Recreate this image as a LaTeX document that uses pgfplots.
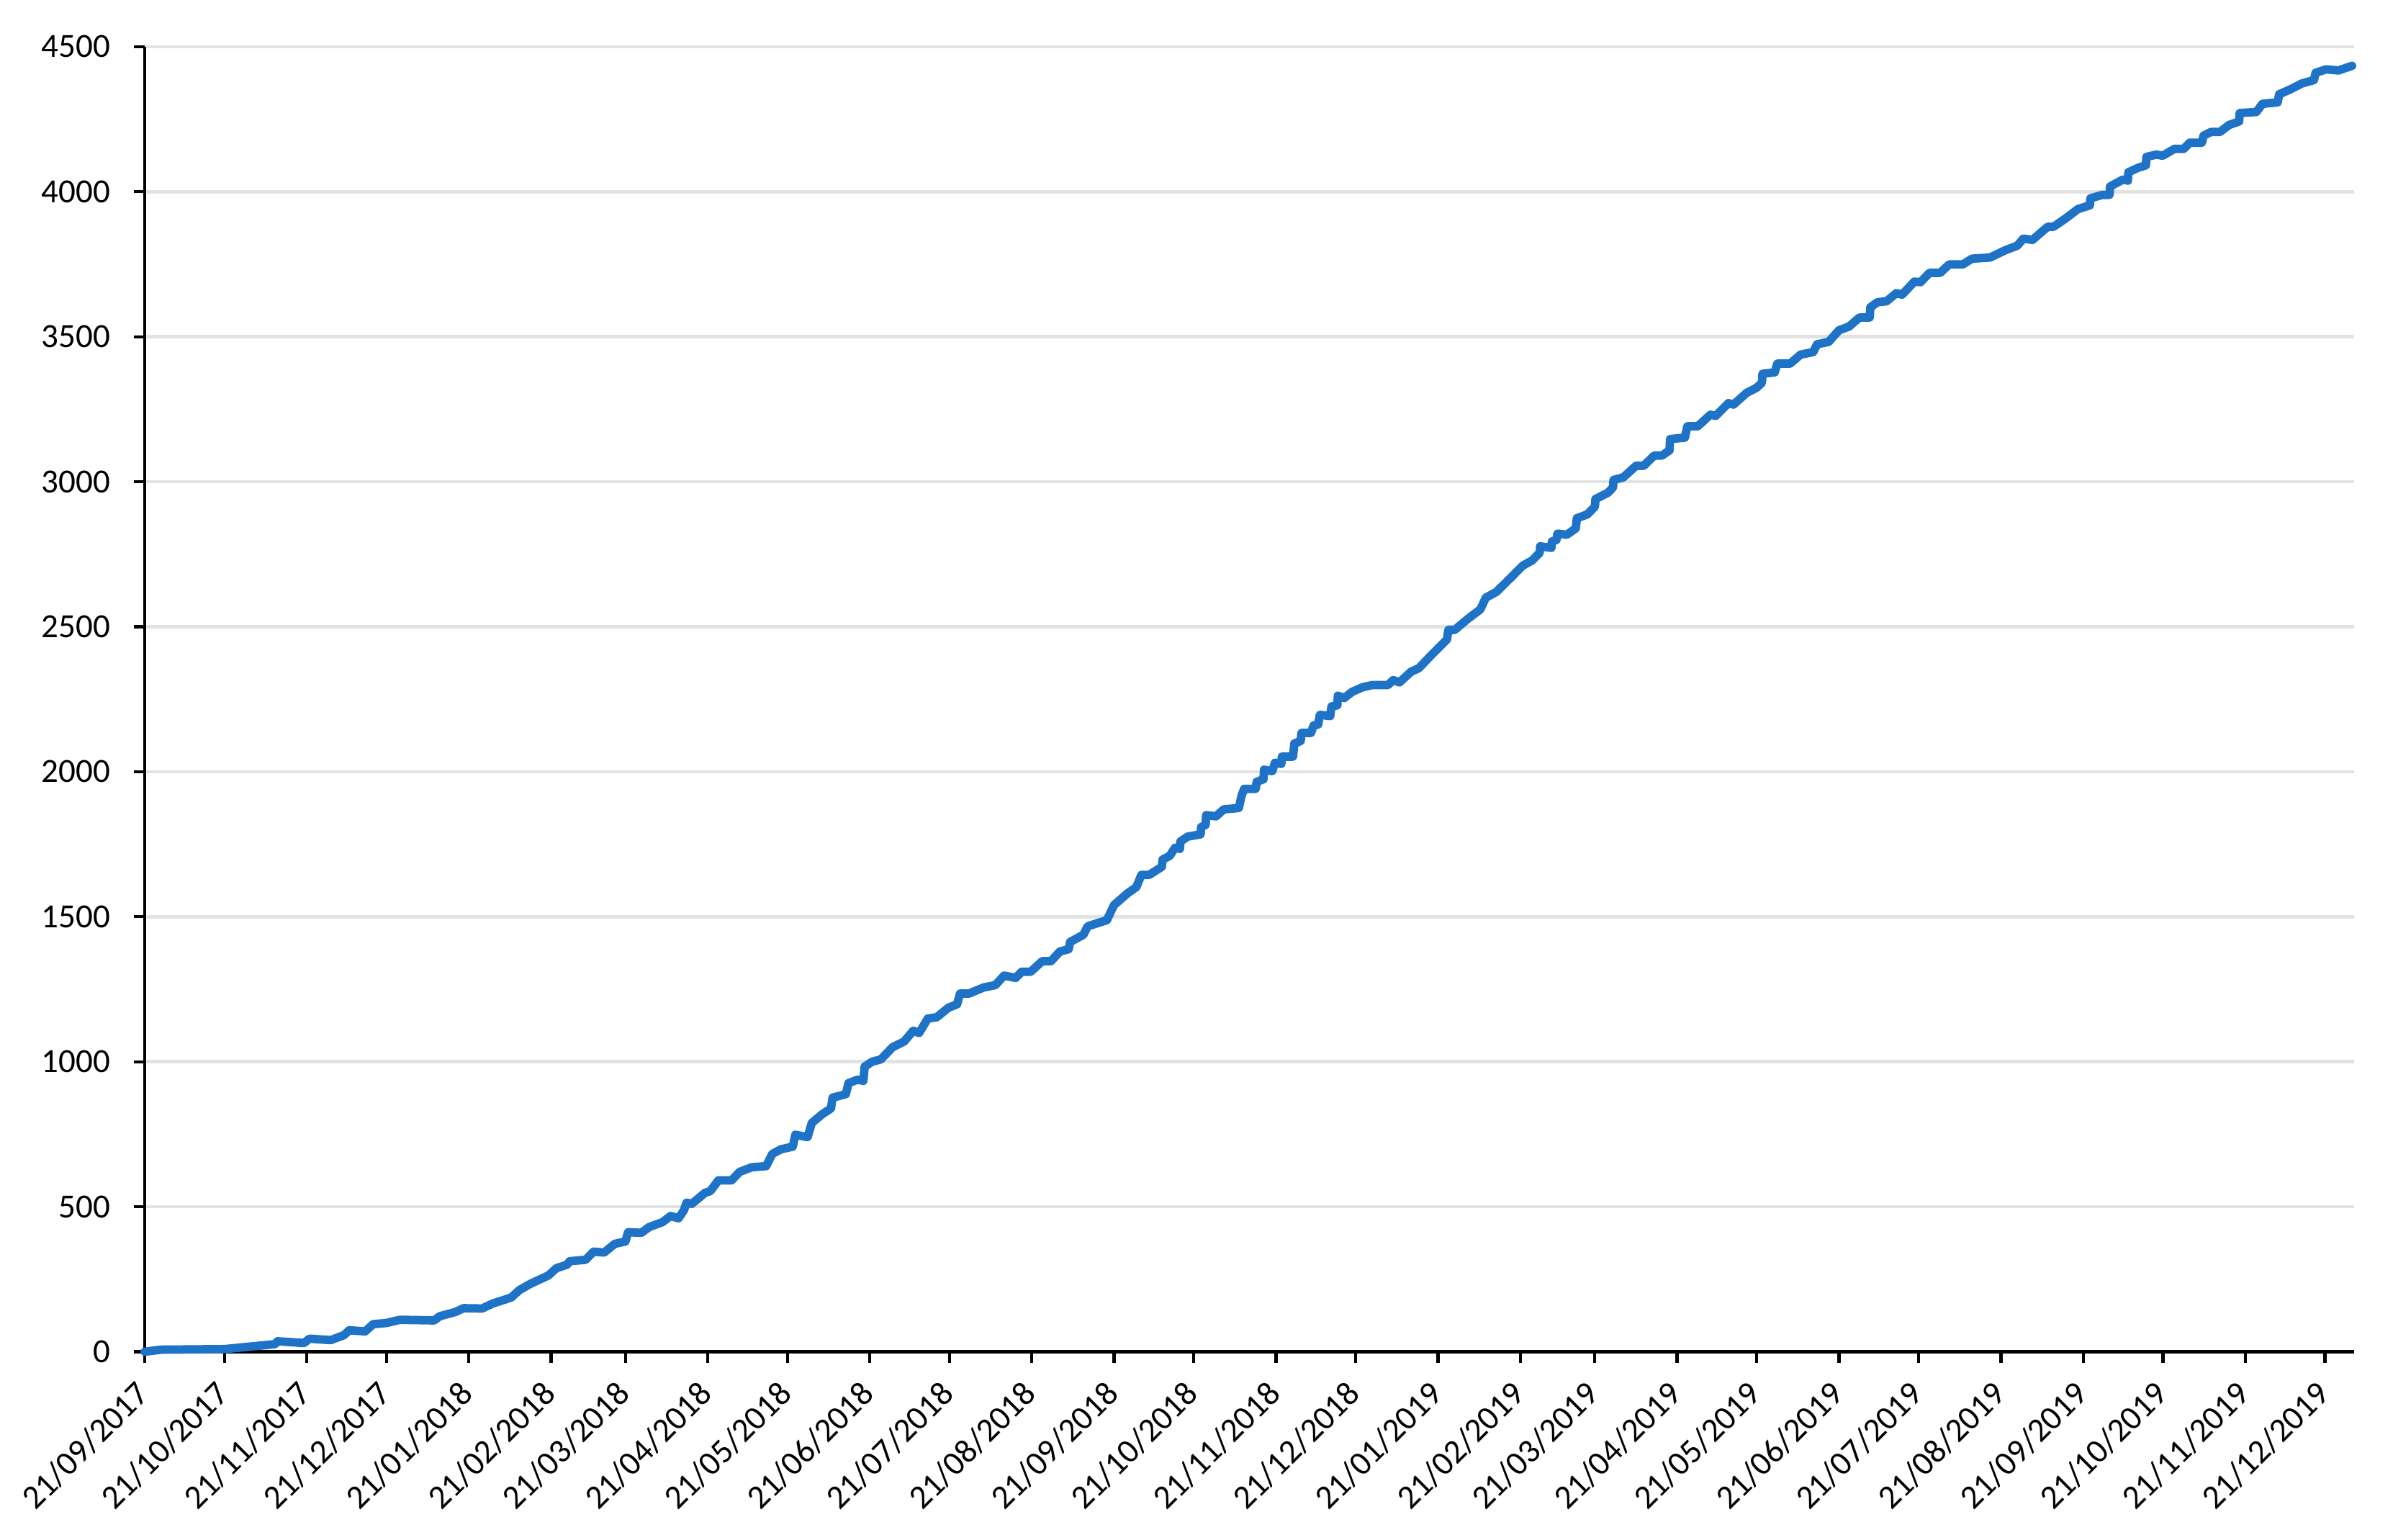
\documentclass[border=0pt]{standalone}
\usepackage{fontspec}
\setmainfont{Carlito}
\usepackage{pgfplots}
\pgfplotsset{compat=1.18}
\definecolor{lineblue}{RGB}{31,115,199}
\definecolor{gridgray}{RGB}{226,226,226}

\begin{document}
\begin{tikzpicture}
\useasboundingbox (-42.8pt,-55.5pt) rectangle (664.5pt,399.5pt);
\begin{axis}[
  scale only axis,
  width=653pt, height=385.7pt,
  xmin=0, xmax=832,
  ymin=0, ymax=4500,
  axis x line=bottom, axis y line=left,
  axis line style={-, line width=1pt, black},
  tick align=outside,
  major tick length=3.2pt,
  major tick style={line width=0.9pt, black},
  ytick={0,500,...,4500},
  xtick={0,30,61,91,122,153,181,212,242,273,303,334,365,395,426,456,487,518,546,577,607,638,668,699,730,760,791,821},
  xticklabels={21/09/2017,21/10/2017,21/11/2017,21/12/2017,21/01/2018,21/02/2018,21/03/2018,21/04/2018,21/05/2018,21/06/2018,21/07/2018,21/08/2018,21/09/2018,21/10/2018,21/11/2018,21/12/2018,21/01/2019,21/02/2019,21/03/2019,21/04/2019,21/05/2019,21/06/2019,21/07/2019,21/08/2019,21/09/2019,21/10/2019,21/11/2019,21/12/2019},
  xticklabel style={xshift=2pt, yshift=-5pt, rotate=45, anchor=east, font=\fontsize{10}{12}\selectfont},
  yticklabel style={xshift=-3.5pt, font=\fontsize{10}{12}\selectfont},
  /pgf/number format/assume math mode=true,
  /pgf/number format/1000 sep={},
  ymajorgrids=true,
  grid style={gridgray, line width=1pt},
  clip=false,
]
% cumulative total, x = days since 21/09/2017
\addplot[color=lineblue, line width=2.5pt, line join=round, line cap=round] coordinates {
(0,0)(6,7)(30,9)(40,18)(49,26)(50,36)(60,30)(62,45)(70,40)(75,57)(77,74)(83,70)
(86,95)(91,99)(96,110)(109,108)(111,122)(117,137)(120,150)(127,149)(131,166)
(138,187)(141,212)(145,233)(148,246)(152,263)(155,288)(159,300)(160,312)(166,317)
(169,345)(173,342)(177,372)(181,380)(182,412)(187,410)(190,430)(195,447)(198,468)
(201,460)(203,487)(204,514)(206,510)(211,548)
(213,554)(216,591)(221,591)(224,620)(228.6,636)(234,640)(236.3,682)(239.6,698)
(244,707)(245,748)(249.6,740)(251.2,789)(255,818)(258.4,839)(259,876)(264,888)
(265,926)(268.4,938)(270.6,934)(271.1,983)(273.9,1000)(277.2,1008)(281.6,1050)
(286,1070)(289.4,1107)(291.6,1099)(294.9,1149)(298.2,1153)(302.6,1186)(305.9,1198)
(307,1235)(310.4,1235)(315.9,1256)(320.3,1264)(323.6,1297)(328,1289)(330.2,1310)
(333.6,1310)(338,1347)(341.3,1347)(344.6,1380)(347.9,1388)(348.5,1413)(353.5,1438)
(355.1,1467)(362.3,1488)(365,1540)(370,1580)
(373.4,1602)(375.3,1644)(378.2,1644)(383,1672)(383.3,1697)(386,1710)(388,1738)
(389.8,1734)(390,1759)(392.7,1776)(397.6,1784)(397.8,1809)(399.5,1817)(399.7,1850)
(403.4,1846)(406.3,1870)(412,1875)(413,1916)(414,1941)(418.4,1941)(418.7,1965)
(421.3,1974)(421.5,2007)(424.6,2002)(425.6,2031)(428,2027)(428.2,2052)(432.4,2052)
(432.9,2097)(435.3,2106)(435.6,2134)(439.2,2134)(440.1,2159)(441.9,2163)(442.5,2196)
(446.4,2192)(446.9,2225)(449.1,2229)(449.3,2262)(451.7,2254)(454.6,2275)(458.5,2291)
(462.4,2299)(468.2,2299)(470.1,2316)(472.5,2308)(476.9,2345)(479.8,2357)(484.6,2403)
(490.4,2456)(490.9,2489)(493.3,2489)(498.1,2526)(503,2560)(505,2600)(509,2620)
(514.2,2667)(519,2711)(522.4,2728)(525.3,2755)(525.5,2777)(529.7,2772)(529.9,2794)
(531.6,2799)(532,2821)(535.5,2817)(538.9,2839)(539.3,2874)(543.2,2887)(546.1,2914)
(546.3,2940)(551,2962)(552.9,2980)(553.1,3006)(556.8,3015)(561.6,3055)(564.5,3055)
(568.4,3090)(571.3,3090)(574.2,3108)(574.4,3147)(580,3152)(580.9,3191)(584.8,3191)
(589.6,3231)(591.6,3227)(596.4,3271)(598.3,3266)(603.2,3306)(607,3324)(609,3341)
(609.2,3372)(613.8,3377)(614.8,3407)(619.6,3407)(623.5,3438)(628.3,3447)(629.8,3474)
(634.1,3482)(638,3522)(641.8,3535)(645.7,3566)(649.6,3566)(649.8,3601)(652.5,3619)
(655.9,3622)(659.6,3650)(661.8,3645)
(666.4,3690)(668.7,3688)(672.1,3720)(676.1,3720)(679.5,3749)(684.6,3749)(688.1,3769)
(694.9,3773)(700.6,3798)(705.2,3814)(707.4,3838)(710.9,3834)(716.6,3879)(718.8,3879)
(723.4,3908)(728,3940)(732.5,3953)(732.7,3977)(737.1,3989)(739.9,3989)(740.1,4018)
(745,4042)(746.8,4038)(747,4067)(750.8,4083)(753.6,4091)(753.8,4120)(757.6,4128)
(759.9,4124)(764.4,4148)(767.9,4148)(770.1,4169)(774.7,4169)(775.3,4193)(778.1,4206)
(781.5,4206)(784.9,4230)(788.7,4242)(788.9,4271)(795.2,4275)(797.5,4303)(803.2,4308)
(803.8,4336)(807.8,4352)(812.3,4373)(816.9,4385)(817.5,4410)(821.5,4422)(826.1,4418)
(831.2,4434)
};
\end{axis}
\end{tikzpicture}
\end{document}
